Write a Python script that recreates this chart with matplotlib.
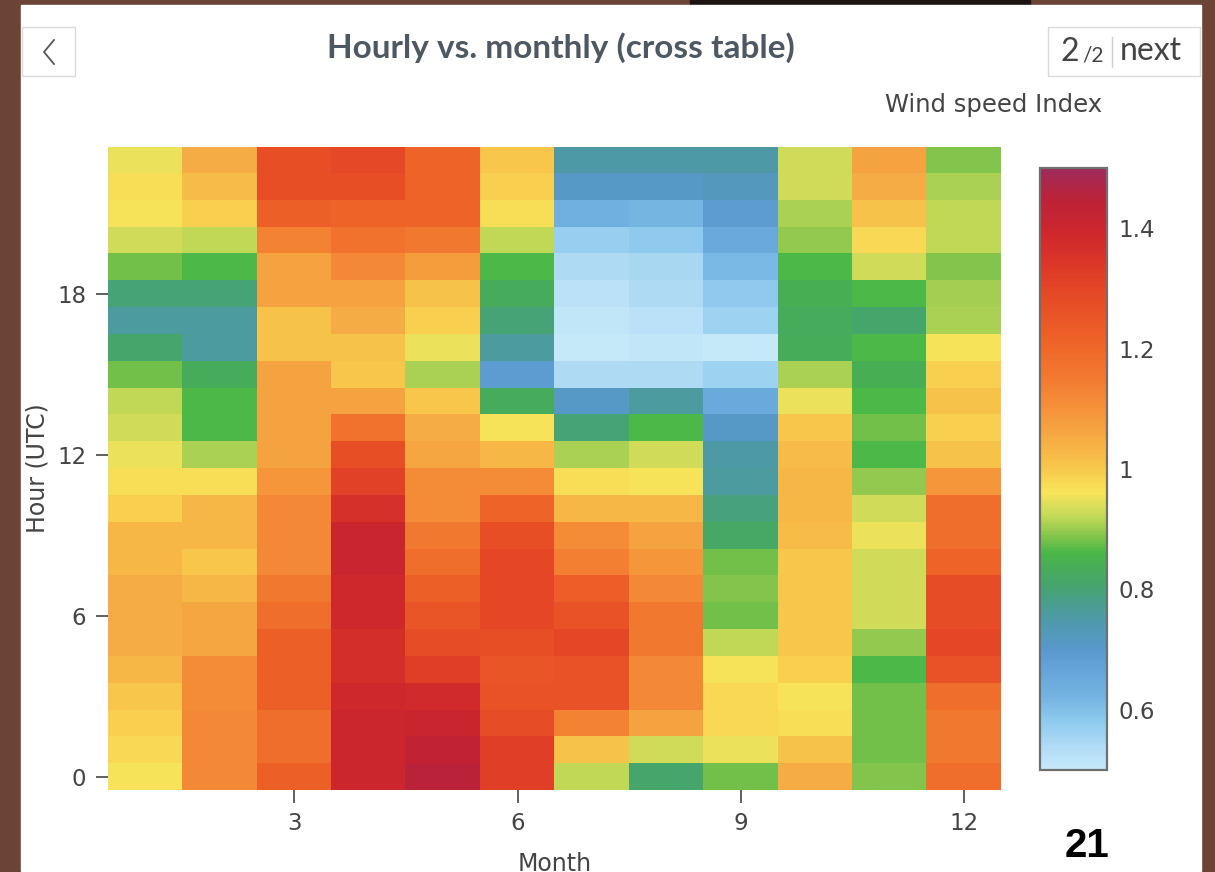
import numpy as np
import matplotlib
matplotlib.use("Agg")
import matplotlib.pyplot as plt
from matplotlib.colors import LinearSegmentedColormap
from matplotlib.patches import Rectangle

# wind speed index per month, hours 0..23 (UTC)
months = list(range(1, 13))
hours = list(range(24))
m01 = [0.96, 0.98, 0.99, 1.00, 1.03, 1.05, 1.05, 1.05, 1.03, 1.03, 0.99, 0.97,
       0.95, 0.93, 0.92, 0.88, 0.81, 0.76, 0.80, 0.88, 0.93, 0.96, 0.97, 0.95]
m02 = [1.12, 1.12, 1.12, 1.11, 1.11, 1.06, 1.06, 1.03, 1.00, 1.03, 1.03, 0.97,
       0.91, 0.86, 0.86, 0.83, 0.76, 0.76, 0.80, 0.86, 0.92, 0.99, 1.02, 1.05]
m03 = [1.22, 1.18, 1.18, 1.22, 1.22, 1.22, 1.18, 1.15, 1.12, 1.12, 1.12, 1.09,
       1.07, 1.07, 1.07, 1.07, 1.01, 1.01, 1.07, 1.07, 1.13, 1.22, 1.27, 1.27]
m04 = [1.40, 1.40, 1.40, 1.39, 1.37, 1.37, 1.39, 1.39, 1.41, 1.41, 1.36, 1.31,
       1.27, 1.17, 1.07, 1.00, 1.01, 1.05, 1.07, 1.12, 1.17, 1.21, 1.27, 1.29]
m05 = [1.45, 1.43, 1.41, 1.38, 1.32, 1.28, 1.25, 1.22, 1.18, 1.15, 1.11, 1.11,
       1.06, 1.05, 1.00, 0.91, 0.95, 0.99, 1.01, 1.08, 1.15, 1.21, 1.21, 1.21]
m06 = [1.32, 1.32, 1.28, 1.26, 1.25, 1.27, 1.30, 1.30, 1.30, 1.27, 1.21, 1.11,
       1.03, 0.96, 0.83, 0.69, 0.76, 0.80, 0.83, 0.86, 0.92, 0.97, 0.99, 1.00]
m07 = [0.92, 1.01, 1.13, 1.26, 1.26, 1.30, 1.26, 1.23, 1.14, 1.11, 1.03, 0.97,
       0.91, 0.80, 0.71, 0.54, 0.50, 0.51, 0.52, 0.54, 0.57, 0.63, 0.71, 0.75]
m08 = [0.81, 0.93, 1.07, 1.12, 1.12, 1.15, 1.15, 1.12, 1.09, 1.07, 1.03, 0.96,
       0.93, 0.86, 0.76, 0.54, 0.51, 0.52, 0.54, 0.55, 0.58, 0.62, 0.71, 0.75]
m09 = [0.88, 0.95, 0.98, 0.98, 0.96, 0.92, 0.88, 0.89, 0.88, 0.82, 0.79, 0.76,
       0.75, 0.71, 0.65, 0.56, 0.50, 0.56, 0.58, 0.61, 0.65, 0.69, 0.72, 0.75]
m10 = [1.05, 1.01, 0.97, 0.96, 0.99, 1.00, 1.00, 1.00, 1.00, 1.02, 1.03, 1.03,
       1.02, 1.00, 0.95, 0.91, 0.835, 0.83, 0.84, 0.86, 0.895, 0.91, 0.93, 0.93]
m11 = [0.89, 0.88, 0.88, 0.88, 0.86, 0.895, 0.93, 0.93, 0.93, 0.95, 0.93, 0.895,
       0.86, 0.88, 0.86, 0.84, 0.86, 0.81, 0.86, 0.93, 0.98, 1.01, 1.05, 1.07]
m12 = [1.18, 1.15, 1.15, 1.18, 1.26, 1.30, 1.28, 1.28, 1.21, 1.18, 1.18, 1.09,
       1.01, 0.99, 1.01, 0.99, 0.96, 0.91, 0.905, 0.89, 0.92, 0.92, 0.91, 0.89]

x_ticks = [3, 6, 9, 12]
y_ticks = [0, 6, 12, 18]
cb_ticks = [0.6, 0.8, 1.0, 1.2, 1.4]
cb_labels = ["0.6", "0.8", "1", "1.2", "1.4"]

# custom colour scale, value -> colour
stops = [(0.50, "#c6e9fa"), (0.54, "#aedaf4"), (0.58, "#8ecaee"), (0.62, "#74b4e2"),
         (0.66, "#66a6da"), (0.70, "#5898cc"), (0.75, "#4e9aa8"), (0.78, "#489f88"),
         (0.81, "#46a66a"), (0.84, "#48ae55"), (0.86, "#4ab848"), (0.88, "#72c04a"),
         (0.90, "#9ccc50"), (0.92, "#c2d958"), (0.94, "#dcde5a"), (0.96, "#f8e45a"),
         (0.98, "#f8d854"), (1.00, "#f8c84c"), (1.05, "#f6ac44"), (1.10, "#f5923a"),
         (1.15, "#f27a30"), (1.20, "#ef6829"), (1.25, "#ea5627"), (1.30, "#e44626"),
         (1.35, "#da3429"), (1.40, "#cc262e"), (1.45, "#bc2238"), (1.50, "#9e2c5c")]
cmap = LinearSegmentedColormap.from_list("wind", [((v - 0.5) / 1.0, c) for v, c in stops])

Z = np.array([m01, m02, m03, m04, m05, m06, m07, m08, m09, m10, m11, m12]).T

W, H = 1215, 872
fig = plt.figure(figsize=(W / 100, H / 100), dpi=100, facecolor="#6b4435")

# background panel, drawn in pixel coords
bg = fig.add_axes([0, 0, 1, 1])
bg.set_xlim(0, W)
bg.set_ylim(H, 0)
bg.axis("off")
bg.add_patch(Rectangle((690, 0), 340, 6, color="#1c1411"))
bg.add_patch(Rectangle((21, 5), 1180, 866, color="white"))

grey = "#444444"
fs = 16.5
# buttons
bg.add_patch(Rectangle((22, 27), 53, 49, fc="white", ec="#dadada", lw=1))
bg.plot([54, 44, 54], [40, 52, 64], color="#555555", lw=1.3)
bg.add_patch(Rectangle((1048, 27), 152, 49, fc="white", ec="#dadada", lw=1))
bg.text(1060, 52, "2", fontsize=23, family="Lato", color=grey, va="center")
bg.text(1082, 56, "/2", fontsize=15, family="Lato", color=grey, va="center")
bg.plot([1112, 1112], [37, 67], color="#cfcfcf", lw=1)
bg.text(1120, 51, "next", fontsize=23, family="Lato", color=grey, va="center")

bg.text(561, 48, "Hourly vs. monthly (cross table)", fontsize=24, family="Lato",
        fontweight="bold", color="#4d5862", ha="center", va="center")
bg.text(994, 105, "Wind speed Index", fontsize=17.5, color=grey, ha="center", va="center")
bg.text(37, 468, "Hour (UTC)", fontsize=17, color=grey, rotation=90,
        ha="center", va="center")
bg.text(555, 871, "Month", fontsize=17, color=grey, ha="center", va="baseline")
bg.text(1087, 846, "21", fontsize=29, family="Liberation Sans", fontweight="bold",
        color="black", ha="center", va="center")

# heatmap
ax = fig.add_axes([108.5 / W, (H - 790) / H, 892.5 / W, 643 / H])
im = ax.imshow(Z, cmap=cmap, vmin=0.5, vmax=1.5, origin="lower", aspect="auto",
               interpolation="nearest",
               extent=(months[0] - 0.5, months[-1] + 0.5, hours[0] - 0.5, hours[-1] + 0.5))
for s in ax.spines.values():
    s.set_visible(False)
ax.set_xticks(x_ticks)
ax.set_yticks(y_ticks)
ax.tick_params(length=9, width=1.2, color=grey, labelsize=fs, labelcolor=grey, pad=7)

cax = fig.add_axes([1040 / W, (H - 770) / H, 67 / W, 602 / H])
cb = fig.colorbar(im, cax=cax, ticks=cb_ticks)
cb.ax.set_yticklabels(cb_labels)
cb.outline.set_edgecolor("#6f6f6f")
cb.outline.set_linewidth(1.6)
cax.tick_params(length=0, pad=8, labelsize=fs, labelcolor=grey)

fig.savefig("out.png", dpi=100, facecolor=fig.get_facecolor())
